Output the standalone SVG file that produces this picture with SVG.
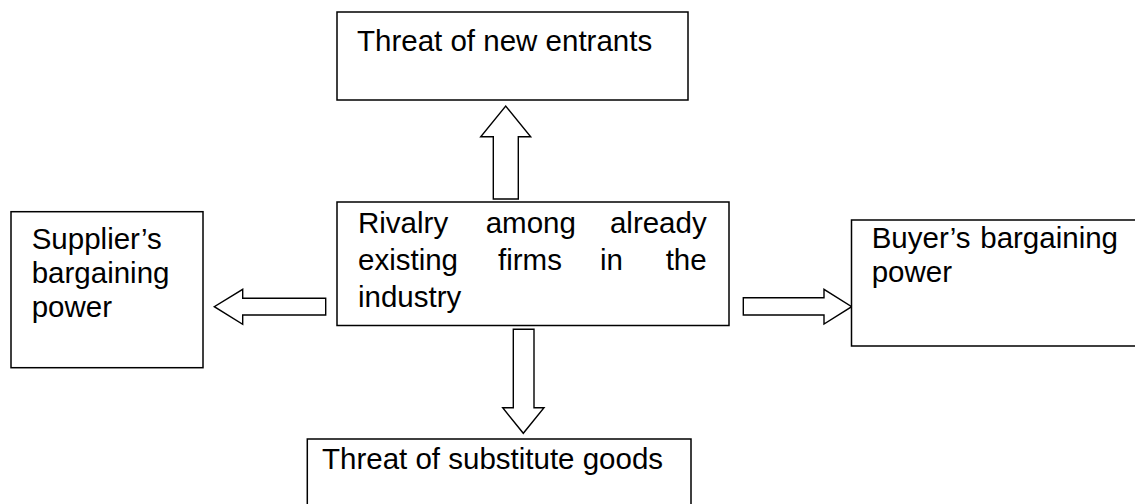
<svg xmlns="http://www.w3.org/2000/svg" width="1135" height="504" viewBox="0 0 1135 504">
<style>
.box{fill:#fff;stroke:#000;stroke-width:1.5}
.arr{fill:#fff;stroke:#000;stroke-width:1.4;stroke-linejoin:miter}
text{font-family:"Liberation Sans",Arial,sans-serif;font-size:29.5px;fill:#000}
.e{text-anchor:end}
</style>
<rect width="1135" height="504" fill="#fff"/>
<g id="connectors">
<polygon class="arr" points="493.3,199 493.3,136.7 480.7,136.7 505.7,106 530.7,136.7 518.3,136.7 518.3,199"/>
<polygon class="arr" points="325.7,298.3 242.7,298.3 242.7,289.3 214.3,306.7 242.7,324.3 242.7,315 325.7,315"/>
<polygon class="arr" points="743.3,297.7 824,297.7 824,289.3 851.7,306.7 824,324 824,315 743.3,315"/>
<polygon class="arr" points="513.3,329.3 513.3,407.7 502.7,407.7 523.3,433.3 544,407.7 534,407.7 534,329.3"/>
</g>
<g id="top">
<rect class="box" x="337" y="12" width="351" height="88"/>
<text x="357" y="50.7">Threat of new entrants</text>
</g>
<g id="center">
<rect class="box" x="337" y="202" width="392" height="123.5"/>
<text x="358" y="233">Rivalry</text>
<text x="485.7" y="233">among</text>
<text class="e" x="706.7" y="233">already</text>
<text x="358" y="270">existing</text>
<text x="498" y="270">firms</text>
<text x="600" y="270">in</text>
<text class="e" x="706.7" y="270">the</text>
<text x="358" y="307">industry</text>
</g>
<g id="left">
<rect class="box" x="11" y="211.7" width="192" height="156"/>
<text x="31.7" y="249">Supplier’s</text>
<text x="31.7" y="283">bargaining</text>
<text x="31.7" y="317">power</text>
</g>
<g id="right">
<path class="box" d="M1136,220 H851.5 V346 H1136"/>
<text x="871.7" y="248">Buyer’s</text>
<text class="e" x="1118" y="248">bargaining</text>
<text x="871.7" y="282">power</text>
</g>
<g id="bottom">
<path class="box" d="M307.3,505 V439 H691 V505"/>
<text x="322" y="469">Threat of substitute goods</text>
</g>
</svg>
